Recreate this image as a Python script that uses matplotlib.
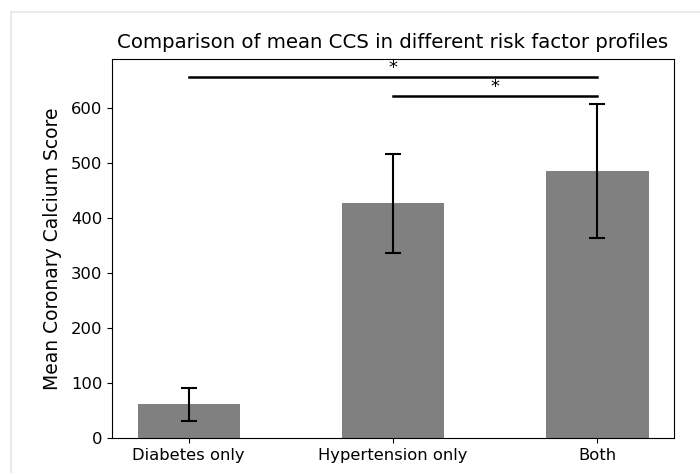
import matplotlib.pyplot as plt
from matplotlib.lines import Line2D
import numpy as np

groups = ['Diabetes only', 'Hypertension only', 'Both']
mean_ccs = [61, 427, 487]
ccs_err = [29.5, 91, 122]

# pairs compared and the height of each bracket
comparisons = [(0, 2), (1, 2)]
bracket_y = [657, 622]

fig = plt.figure(figsize=(7, 4.73), dpi=100)
ax = fig.add_axes([0.16, 0.074, 0.803, 0.801])

x = np.arange(len(groups))
ax.bar(x, mean_ccs, width=0.5, color='gray', yerr=ccs_err,
       capsize=6, error_kw=dict(elinewidth=1.5, capthick=1.5, ecolor='black'))

for (a, b), y in zip(comparisons, bracket_y):
    ax.plot([a, b], [y, y], color='black', lw=1.8)
    ax.text((a + b) / 2, y, '*', ha='center', va='bottom', fontsize=13)

ax.set_xticks(x)
ax.set_xticklabels(groups, fontsize=11.8)
ax.tick_params(axis='y', labelsize=11.8)
ax.set_ylabel('Mean Coronary Calcium Score', fontsize=13.5, labelpad=6)
ax.set_title('Comparison of mean CCS in different risk factor profiles', fontsize=14.2, pad=8)

# light frame around the figure
fig.add_artist(Line2D([11 / 700, 1], [1 - 12 / 473, 1 - 12 / 473], color='#e6e6e6', lw=1.2))
fig.add_artist(Line2D([11 / 700, 11 / 700], [0, 1 - 12 / 473], color='#e6e6e6', lw=1.2))

plt.savefig('out.png', dpi=100)
